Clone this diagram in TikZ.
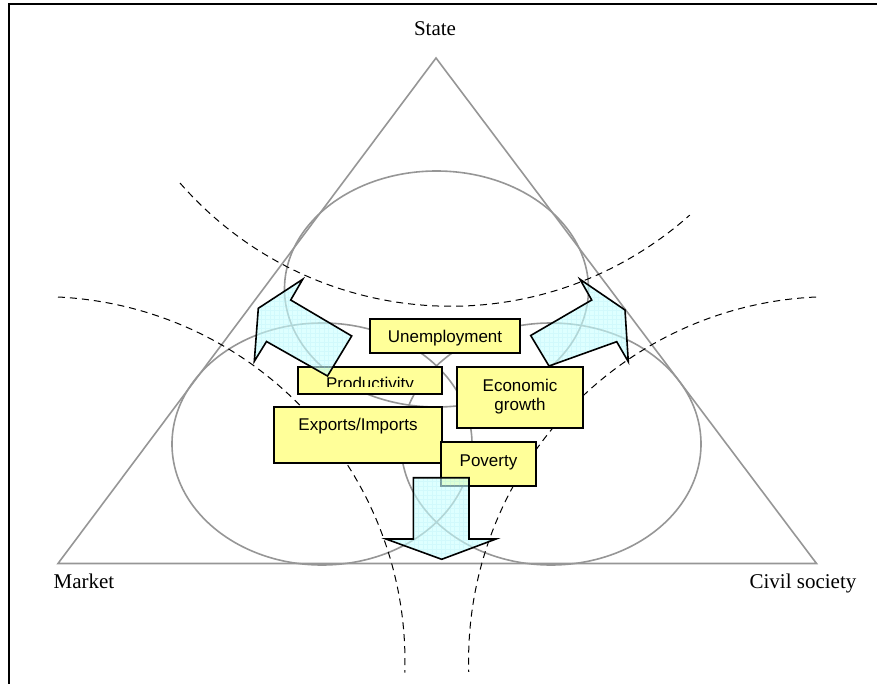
\documentclass[tikz,border=0pt]{standalone}
\usepackage{fontspec}
\setmainfont{Liberation Serif}
\newfontfamily\boxfont{Liberation Sans}

\definecolor{outline}{RGB}{150,150,150}
\definecolor{notefill}{RGB}{255,255,153}
\definecolor{flowfill}{RGB}{200,255,255}
\definecolor{flowgrid}{RGB}{150,225,240}

\tikzset{
  sphere/.style={draw=outline, line width=1.6pt},
  boundary/.style={draw=black, line width=1pt, dash pattern=on 7pt off 5pt},
  notebox/.style={draw=black, fill=notefill, line width=1.6pt, inner sep=0pt},
  notetext/.style={font=\boxfont\fontsize{17}{20}\selectfont, inner sep=0pt, anchor=base},
  corner/.style={font=\fontsize{21}{24}\selectfont, inner sep=0pt, anchor=base},
  flow/.style={draw=black, line width=1.6pt, line join=miter, fill=flowfill, fill opacity=0.6,
    path picture={\draw[flowgrid, line width=0.3pt, draw opacity=0.18]
      (path picture bounding box.south west) grid[step=4.5pt]
      (path picture bounding box.north east);}}
}

\begin{document}
\begin{tikzpicture}[x=1pt, y=1pt]
  \useasboundingbox (0,0) rectangle (877,-684);

  % frame
  \draw[line width=2pt] (8.5,-684) -- (8.5,-4.5) -- (877,-4.5);

  % triangle and the three spheres
  \draw[sphere, line join=miter] (436,-58) -- (58,-563.5) -- (816.5,-563.5) -- cycle;
  \draw[sphere] (436.5,-289) ellipse[x radius=152pt, y radius=118pt];
  \draw[sphere] (322,-444) ellipse[x radius=150pt, y radius=121pt];
  \draw[sphere] (551,-444) ellipse[x radius=150pt, y radius=121pt];

  % sphere labels
  \node[corner] (state) at (435,-36) {State};
  \node[corner] (market) at (84,-588) {Market};
  \node[corner] (civil) at (803,-588) {Civil society};

  % dashed boundaries
  \draw[boundary] (180,-183) arc[start angle=221.05, end angle=311.73, radius=359pt];
  \draw[boundary] (58,-297) arc[start angle=87.17, end angle=-1.73, radius=365pt];
  \draw[boundary] (816,-297) arc[start angle=92.67, end angle=181.73, radius=364.4pt];

  % issue boxes
  \node[notebox, minimum width=150pt, minimum height=34pt] (unemp) at (445,-336) {};
  \node[notetext] (unemptxt) at (445,-342.7) {Unemployment};

  \node[notebox, minimum width=144pt, minimum height=27pt] (prod) at (370,-380.5) {};
  \begin{scope}
    \clip (298,-367) rectangle (442,-386);
    \node[notetext] (prodtxt) at (370,-389) {Productivity};
  \end{scope}

  \node[notebox, minimum width=126pt, minimum height=61pt] (econ) at (520,-397.5) {};
  \node[notetext] (econtxta) at (520,-391) {Economic};
  \node[notetext] (econtxtb) at (520,-410.7) {growth};

  \node[notebox, minimum width=168pt, minimum height=56pt] (expo) at (358,-435) {};
  \node[notetext] (expotxt) at (358,-430.7) {Exports/Imports};

  \node[notebox, minimum width=95pt, minimum height=44pt] (pov) at (488.5,-464) {};
  \node[notetext] (povtxt) at (488.5,-466) {Poverty};

  % block arrows
  \draw[flow] (258.3,-308.3) -- (302.7,-279.3) -- (290.7,-300) -- (351.7,-336)
    -- (327.5,-376) -- (266.5,-341.5) -- (254.3,-361.3) -- cycle;
  \draw[flow] (625,-310) -- (580,-279.3) -- (591.7,-300) -- (530.7,-335.5)
    -- (549,-366) -- (616.7,-341.7) -- (628.3,-361.7) -- cycle;
  \draw[flow] (413.3,-477.7) -- (469,-477.7) -- (469,-539) -- (496,-539)
    -- (441.7,-559.3) -- (386,-539) -- (413.3,-539) -- cycle;
\end{tikzpicture}
\end{document}
